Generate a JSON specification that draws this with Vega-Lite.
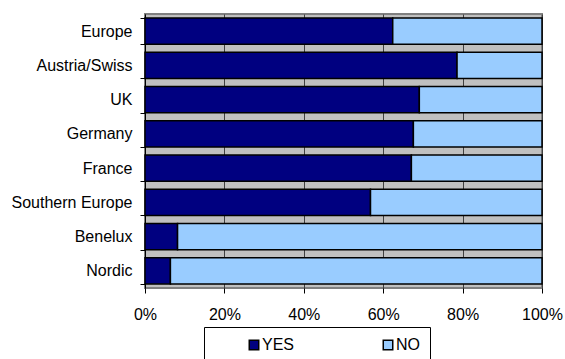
{
  "$schema": "https://vega.github.io/schema/vega-lite/v6.json",
  "autosize": "none",
  "width": 397,
  "height": 274,
  "padding": {"left": 145, "top": 14, "right": 23, "bottom": 71},
  "background": "white",
  "data": {
    "values": [
      {"region": "Europe", "answer": "YES", "share": 62.4},
      {"region": "Europe", "answer": "NO", "share": 37.6},
      {"region": "Austria/Swiss", "answer": "YES", "share": 78.6},
      {"region": "Austria/Swiss", "answer": "NO", "share": 21.4},
      {"region": "UK", "answer": "YES", "share": 69.1},
      {"region": "UK", "answer": "NO", "share": 30.9},
      {"region": "Germany", "answer": "YES", "share": 67.6},
      {"region": "Germany", "answer": "NO", "share": 32.4},
      {"region": "France", "answer": "YES", "share": 67.1},
      {"region": "France", "answer": "NO", "share": 32.9},
      {"region": "Southern Europe", "answer": "YES", "share": 56.8},
      {"region": "Southern Europe", "answer": "NO", "share": 43.2},
      {"region": "Benelux", "answer": "YES", "share": 8.2},
      {"region": "Benelux", "answer": "NO", "share": 91.8},
      {"region": "Nordic", "answer": "YES", "share": 6.4},
      {"region": "Nordic", "answer": "NO", "share": 93.6}
    ]
  },
  "mark": {"type": "bar", "stroke": "black", "strokeWidth": 1.5},
  "encoding": {
    "y": {
      "field": "region",
      "type": "nominal",
      "sort": null,
      "title": null,
      "scale": {"paddingInner": 0.24, "paddingOuter": 0.12},
      "axis": {
        "tickBand": "extent",
        "tickSize": 5,
        "tickColor": "black",
        "domainColor": "black",
        "domainWidth": 1,
        "labelPadding": 8,
        "grid": false
      }
    },
    "x": {
      "field": "share",
      "type": "quantitative",
      "stack": "normalize",
      "title": null,
      "scale": {"domain": [0, 1], "nice": false},
      "axis": {
        "format": ".0%",
        "values": [0, 0.2, 0.4, 0.6, 0.8, 1],
        "tickSize": 5,
        "tickColor": "black",
        "domain": false,
        "grid": true,
        "gridColor": "#404040",
        "gridWidth": 1,
        "gridOpacity": 1,
        "labelPadding": 13,
        "labelFlush": false
      }
    },
    "color": {
      "field": "answer",
      "type": "nominal",
      "sort": ["YES", "NO"],
      "scale": {"domain": ["YES", "NO"], "range": ["#000080", "#99CCFF"]},
      "legend": {
        "title": null,
        "orient": "none",
        "direction": "horizontal",
        "legendX": 59,
        "legendY": 313,
        "padding": 10,
        "fillColor": "white",
        "strokeColor": "black",
        "symbolType": "square",
        "symbolSize": 90,
        "symbolStrokeColor": "black",
        "symbolStrokeWidth": 1.5,
        "symbolOpacity": 1,
        "symbolOffset": 32,
        "labelOffset": 0,
        "columnPadding": 53,
        "labelExpr": "datum.label == 'NO' ? 'NO\u00a0\u00a0\u00a0\u00a0\u00a0\u00a0\u00a0\u00a0\u00a0\u00a0' : datum.label"
      }
    },
    "order": {"field": "answer", "sort": "descending"}
  },
  "config": {
    "font": "Liberation Sans",
    "view": {"fill": "#C0C0C0", "stroke": "#808080", "strokeWidth": 2},
    "axis": {"labelFontSize": 16, "labelColor": "black", "labelFont": "Liberation Sans"},
    "legend": {"labelFontSize": 16, "labelColor": "black", "labelFont": "Liberation Sans"}
  }
}
